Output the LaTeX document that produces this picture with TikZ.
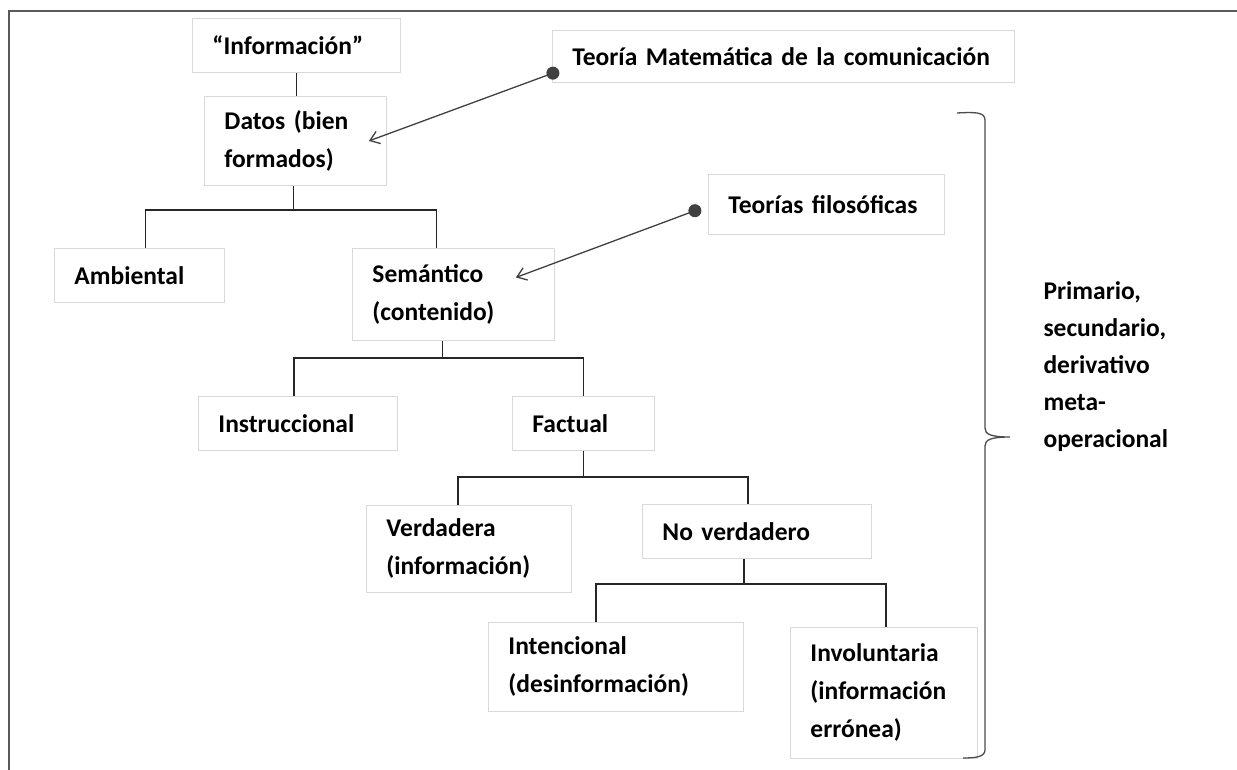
\documentclass[tikz,border=0pt]{standalone}
\usepackage{fontspec}
\setmainfont{Carlito}[WordSpace=0.6]
\usepackage{tikz}
\usepackage{xcolor}
\usetikzlibrary{positioning, calc, arrows.meta}

\tikzset{
  caja/.style={draw=gray!30, line width=0.9pt, anchor=north west, align=left,
    inner xsep=20pt, inner ysep=0pt, font=\fontsize{25.5}{38}\selectfont\bfseries},
  rama/.style={line width=1.4pt, black!85},
  flecha/.style={line width=1.3pt, black!75,
    {Circle[length=13pt]}-{Straight Barb[length=9pt,width=13pt]}},
}

\begin{document}
\begin{tikzpicture}[x=1pt, y=-1pt]
    \useasboundingbox (0,0) rectangle (1237,769);
    \draw[line width=2.5pt, black!65] (9,780) -- (9,11) -- (1250,11);

    \node[caja, text width=168pt, minimum height=54pt] (info) at (192,18) {“Información”};
    \node[caja, text width=142pt, minimum height=89pt] (datos) at (204,96) {Datos (bien\\formados)};
    \node[caja, text width=422pt, minimum height=52pt] (teomat) at (552,30) {\mbox{Teoría Matemática de la comunicación}};
    \node[caja, text width=196pt, minimum height=60pt] (teofil) at (708,174) {\mbox{Teorías filosóficas}};
    \node[caja, text width=130pt, minimum height=54pt] (ambiental) at (54,248) {Ambiental};
    \node[caja, text width=162pt, minimum height=92pt] (semantico) at (352,248) {Semántico\\(contenido)};
    \node[caja, text width=159pt, minimum height=54pt] (instruc) at (198,396) {Instruccional};
    \node[caja, text width=102pt, minimum height=54pt] (factual) at (512,396) {Factual};
    \node[caja, text width=165pt, minimum height=87pt] (verdadera) at (366,505) {Verdadera\\(información)};
    \node[caja, text width=189pt, minimum height=54pt] (noverdad) at (642,504) {No verdadero};
    \node[caja, text width=215pt, minimum height=89pt] (intencional) at (488,622) {Intencional\\(desinformación)};
    \node[caja, text width=147pt, minimum height=131pt] (involuntaria) at (790,627) {Involuntaria\\(información\\errónea)};

    \node[align=left, anchor=west, font=\fontsize{25.5}{37}\selectfont\bfseries] (niveles) at (1040,367) {Primario,\\secundario,\\derivativo\\meta-\\operacional};

    \draw[rama] (info.south) -- (info.south |- datos.north);
    \draw[rama] ([xshift=-2pt]datos.south) -- ++(0,24) coordinate (r1);
    \draw[rama] ([xshift=6pt]ambiental.north) |- (r1) -| ([xshift=-17pt]semantico.north);
    \draw[rama] ([xshift=-11pt]semantico.south) -- ++(0,17) coordinate (r2);
    \draw[rama] ([xshift=-4pt]instruc.north) |- (r2) -| (factual.north);
    \draw[rama] (factual.south) -- ++(0,26) coordinate (r3);
    \draw[rama] ([xshift=-11pt]verdadera.north) |- (r3) -| ([xshift=-9pt]noverdad.north);
    \draw[rama] ([xshift=-13pt]noverdad.south) -- ++(0,25) coordinate (r4);
    \draw[rama] ([xshift=-20pt]intencional.north) |- (r4) -| ([xshift=2pt]involuntaria.north);

    \draw[flecha] ($(teomat.south west)+(7,-12)$) -- ([xshift=-18pt]datos.east);
    \draw[flecha] ([shift={(-7pt,-4pt)}]teofil.west) -- ([shift={(-39pt,17pt)}]semantico.east);

    \draw[line width=1.3pt, black!70] (957,113) .. controls (975,112) and (985,112) .. (985,120)
        -- (985,428) .. controls (985,434) and (990,437) .. (1010,437)
        .. controls (990,437) and (985,440) .. (985,446)
        -- (985,750) .. controls (985,757) and (975,758) .. (963,758);
\end{tikzpicture}
\end{document}
